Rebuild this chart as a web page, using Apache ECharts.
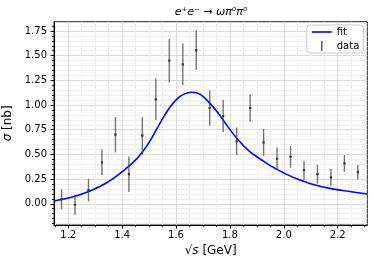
<!DOCTYPE html>
<html>
<head>
<meta charset="utf-8">
<script src="https://cdn.jsdelivr.net/npm/echarts@6/dist/echarts.min.js"></script>
<style>html,body{margin:0;padding:0;background:#fff}#c{width:374px;height:266px}</style>
</head>
<body>
<div id="c"></div>
<script>
const xData = [1.175,1.225,1.275,1.325,1.375,1.425,1.475,1.525,1.575,1.625,1.675,1.725,1.775,1.825,1.875,1.925,1.975,2.025,2.075,2.125,2.175,2.225,2.275];
const yData = [0.045,-0.01,0.139,0.42,0.70,0.30,0.69,1.058,1.449,1.412,1.557,0.970,0.889,0.632,0.970,0.622,0.456,0.476,0.341,0.300,0.267,0.409,0.321];
const errData = [0.10,0.10,0.115,0.13,0.18,0.18,0.19,0.21,0.22,0.21,0.20,0.18,0.165,0.14,0.14,0.135,0.115,0.11,0.095,0.095,0.085,0.085,0.072];
const fitX = [1.147,1.2186,1.2806,1.3425,1.4042,1.454,1.478,1.503,1.528,1.553,1.578,1.602,1.627,1.658,1.689,1.726,1.757,1.788,1.831,1.874,1.924,1.961,2.011,2.060,2.109,2.171,2.233,2.310];
const fitY = [0.028,0.071,0.129,0.213,0.334,0.455,0.535,0.635,0.755,0.875,0.980,1.058,1.108,1.130,1.111,1.017,0.916,0.797,0.645,0.527,0.433,0.369,0.298,0.240,0.196,0.156,0.129,0.099];
const xMajor = [1.2,1.4,1.6,1.8,2.0,2.2];
const xMinor = [1.15,1.25,1.3,1.35,1.45,1.5,1.55,1.65,1.7,1.75,1.85,1.9,1.95,2.05,2.1,2.15,2.25,2.3];
const yMajor = [0,0.25,0.5,0.75,1.0,1.25,1.5,1.75];
const yMinor = [-0.2,-0.15,-0.1,-0.05,0.05,0.1,0.15,0.2,0.3,0.35,0.4,0.45,0.55,0.6,0.65,0.7,0.8,0.85,0.9,0.95,1.05,1.1,1.15,1.2,1.3,1.35,1.4,1.45,1.55,1.6,1.65,1.7,1.8];
const titleText = 'e\u207Ae\u207B \u2192 \u03C9\u03C0\u2070\u03C0\u2070';

const FONT = 'DejaVu Sans';
const chart = echarts.init(document.getElementById('c'), null, {renderer:'canvas'});
const xr = {min:1.147, max:2.31};
const yr = {min:-0.215, max:1.844};
const option = {
  animation:false,
  backgroundColor:'#fff',
  grid:{left:54, right:6.7, top:21.7, bottom:41, show:true, borderColor:'#222', borderWidth:1, outerBoundsMode:'none', containLabel:false},
  graphic:[{type:'text', x:211, y:12, style:{text:titleText, font:'italic 11px "DejaVu Sans"', fill:'#000', textAlign:'center', textVerticalAlign:'middle'}}],
  legend:{
    orient:'vertical', right:10.7, top:25, padding:[2,4,2,5], itemGap:4, itemWidth:20, itemHeight:10, itemTextGap:7,
    backgroundColor:'rgba(255,255,255,0.85)', borderColor:'#cccccc', borderWidth:1, borderRadius:3, align:'left',
    textStyle:{fontFamily:FONT, fontSize:10, color:'#000'},
    data:[
      {name:'fit', icon:'path://M0,4 L20,4 L20,5.6 L0,5.6 Z', itemStyle:{color:'#0000ff'}},
      {name:'data', icon:'path://M9.3,0 L10.7,0 L10.7,10 L9.3,10 Z', itemStyle:{color:'#555'}}
    ]
  },
  xAxis:[
    {type:'value', min:xr.min, max:xr.max, position:'bottom',
     axisLine:{show:true, onZero:false, lineStyle:{color:'#000', width:1}},
     axisTick:{show:true, customValues:xMajor, length:3.5, lineStyle:{color:'#000'}},
     axisLabel:{customValues:xMajor, formatter:v=>v.toFixed(1), fontFamily:FONT, fontSize:10, color:'#000', margin:5},
     splitLine:{show:true, lineStyle:{color:'#dadada', width:1}},
     name:'\u221A{i|s} [GeV]', nameLocation:'middle', nameGap:20,
     nameTextStyle:{fontFamily:FONT, fontSize:12, color:'#000', rich:{i:{fontFamily:FONT, fontSize:12, fontStyle:'italic', color:'#000'}}}},
    {type:'value', min:xr.min, max:xr.max, position:'bottom',
     axisLine:{show:false, onZero:false},
     axisTick:{show:true, customValues:xMinor, length:2, lineStyle:{color:'#000'}},
     axisLabel:{show:false},
     splitLine:{show:true, lineStyle:{color:'#efefef', width:1}}}
  ],
  yAxis:[
    {type:'value', min:yr.min, max:yr.max, position:'left',
     axisLine:{show:true, onZero:false, lineStyle:{color:'#000', width:1}},
     axisTick:{show:true, customValues:yMajor, length:3.5, lineStyle:{color:'#000'}},
     axisLabel:{customValues:yMajor, formatter:v=>v.toFixed(2), fontFamily:FONT, fontSize:10, color:'#000', margin:7},
     splitLine:{show:true, lineStyle:{color:'#dadada', width:1}},
     name:'{i|\u03C3} [nb]', nameLocation:'middle', nameGap:36, nameRotate:90,
     nameTextStyle:{fontFamily:FONT, fontSize:12, color:'#000', rich:{i:{fontFamily:FONT, fontSize:12, fontStyle:'italic', color:'#000'}}}},
    {type:'value', min:yr.min, max:yr.max, position:'left',
     axisLine:{show:false, onZero:false},
     axisTick:{show:true, customValues:yMinor, length:2, lineStyle:{color:'#000'}},
     axisLabel:{show:false},
     splitLine:{show:true, lineStyle:{color:'#efefef', width:1}}}
  ],
  series:[
    {name:'fit', type:'line', xAxisIndex:0, yAxisIndex:0, data:fitX.map((x,i)=>[x,fitY[i]]),
     showSymbol:false, symbol:'none', smooth:0.35, clip:true, z:3,
     lineStyle:{color:'#0000ff', width:1.6}, itemStyle:{color:'#0000ff'}},
    {name:'data', type:'custom', xAxisIndex:0, yAxisIndex:0, clip:true, z:4,
     itemStyle:{color:'#555'},
     data:xData.map((x,i)=>[x,yData[i],errData[i]]),
     encode:{x:0, y:1},
     renderItem:function(params, api){
       const x = api.value(0), y = api.value(1), e = api.value(2);
       const t = api.coord([x, y+e]), b = api.coord([x, y-e]), c = api.coord([x, y]);
       return {type:'group', children:[
         {type:'line', shape:{x1:t[0], y1:t[1], x2:b[0], y2:b[1]}, style:{stroke:'rgba(70,70,70,0.75)', lineWidth:1.4}},
         {type:'rect', shape:{x:c[0]-1.1, y:c[1]-1.1, width:2.2, height:2.2}, style:{fill:'#333'}}
       ]};
     }}
  ]
};
chart.setOption(option);
</script>
</body>
</html>
